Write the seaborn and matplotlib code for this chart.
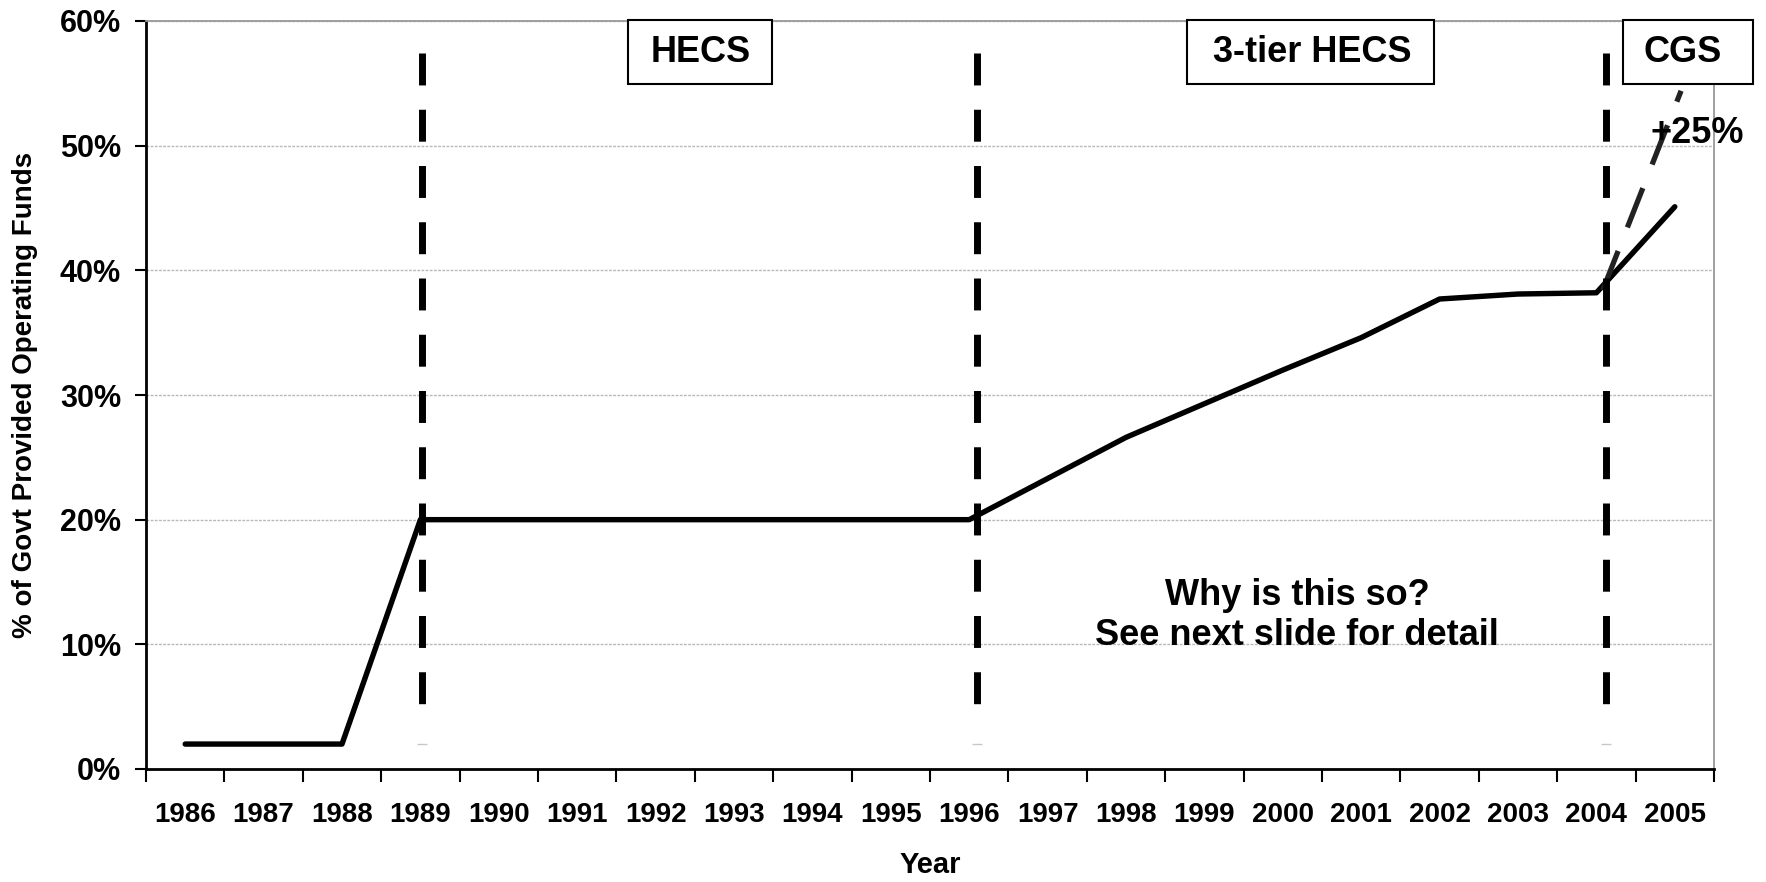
import numpy as np
import pandas as pd
import seaborn as sns
import matplotlib.pyplot as plt
from matplotlib.patches import Rectangle
from matplotlib.ticker import FixedLocator

# data
years = [str(y) for y in range(1986, 2006)]
govt_share = [2, 2, 2, 20, 20, 20, 20, 20, 20, 20, 20,
              23.3, 26.6, 29.3, 32.0, 34.6, 37.7, 38.1, 38.2, 45.1]
proj_years = ['2004', '2005']
proj_share = [38.4, 54.4]
policy_years = ['1989', '1996', '2004']
policy_labels = ['HECS', '3-tier HECS', 'CGS']
y_ticks = [0, 10, 20, 30, 40, 50, 60]

sns.set_theme(style='white')
plt.rcParams['font.family'] = ['Liberation Sans', 'DejaVu Sans']
plt.rcParams['font.weight'] = 'bold'
plt.rcParams['text.color'] = 'black'
plt.rcParams['axes.labelcolor'] = 'black'
plt.rcParams['xtick.color'] = 'black'
plt.rcParams['ytick.color'] = 'black'

df = pd.DataFrame({'year': years, 'share': govt_share})
df['pos'] = np.arange(len(df))
pos_of = dict(zip(years, df['pos']))

fig = plt.figure(figsize=(17.66, 8.82), dpi=100)
ax = fig.add_axes([146 / 1766, 1 - 769 / 882, 1568 / 1766, 748 / 882])

sns.lineplot(data=df, x='pos', y='share', color='black', linewidth=3.9,
             solid_capstyle='round', ax=ax, zorder=4)

# projected +25% line
proj = pd.DataFrame({'pos': [pos_of[y] + 0.08 for y in proj_years], 'share': proj_share})
sns.lineplot(data=proj, x='pos', y='share', color='#222222', linewidth=3.8,
             ax=ax, zorder=4, linestyle=(0, (8, 4.8)))

# policy change markers
offsets = [0.02, 0.1, 0.12]
for yr, off in zip(policy_years, offsets):
    x = pos_of[yr] + off
    ax.plot([x, x], [57.4, 3.6], color='black', linewidth=5,
            linestyle=(0, (4.6, 3.5)), zorder=5)
    ax.plot([x], [2.0], marker='_', color='#c8c8c8', markersize=7,
            markeredgewidth=1, zorder=5)

# labelled boxes along the top
boxes = [(5.648, 7.485, 6.58), (12.78, 15.93, 14.37), (18.34, 19.998, 19.10)]
for (x0, x1, xc), lab in zip(boxes, policy_labels):
    ax.add_patch(Rectangle((x0, 54.95), x1 - x0, 5.13, facecolor='white',
                           edgecolor='black', linewidth=1.5, clip_on=False, zorder=6))
    ax.text(xc, 57.45, lab, ha='center', va='center', fontsize=26,
            fontweight='bold', zorder=7, clip_on=False)

ax.text(19.28, 51.0, '+25%', ha='center', va='center', fontsize=26,
        fontweight='bold', zorder=7, clip_on=False)
ax.text(14.18, 13.9, 'Why is this so?', ha='center', va='center',
        fontsize=26, fontweight='bold', zorder=7)
ax.text(14.18, 10.7, 'See next slide for detail', ha='center', va='center',
        fontsize=26, fontweight='bold', zorder=7)

# axes styling
ax.set_xlim(-0.5, len(years) - 0.5)
ax.set_ylim(0, 60)
ax.set_xticks(df['pos'])
ax.set_xticklabels(years)
ax.xaxis.set_minor_locator(FixedLocator(np.arange(-0.5, len(years), 1.0)))
ax.tick_params(axis='x', which='major', length=0, pad=24, labelsize=20)
ax.tick_params(axis='x', which='minor', length=9.5, width=1.5, color='black',
               direction='out', bottom=True)
ax.set_yticks(y_ticks)
ax.set_yticklabels([f'{v}%' for v in y_ticks])
ax.tick_params(axis='y', length=8, width=1.5, color='black', direction='out',
               left=True, pad=10, labelsize=22)
for lab in ax.get_xticklabels() + ax.get_yticklabels():
    lab.set_fontweight('bold')

ax.yaxis.grid(True, color='#b8b8b8', linestyle=(0, (2, 1)), linewidth=1)
ax.xaxis.grid(False)
for side in ['left', 'bottom']:
    ax.spines[side].set_color('black')
    ax.spines[side].set_linewidth(2)
for side in ['top', 'right']:
    ax.spines[side].set_color('#999999')
    ax.spines[side].set_linewidth(1.3)

ax.set_xlabel('Year', fontsize=21, fontweight='bold')
ax.set_ylabel('% of Govt Provided Operating Funds', fontsize=20, fontweight='bold')
ax.xaxis.set_label_coords(0.5, (769 - 865) / 748)
ax.xaxis.label.set_va('center')
ax.yaxis.set_label_coords(-121 / 1568, 0.5)
ax.yaxis.label.set_va('center')

fig.savefig('out.png', dpi=100)
